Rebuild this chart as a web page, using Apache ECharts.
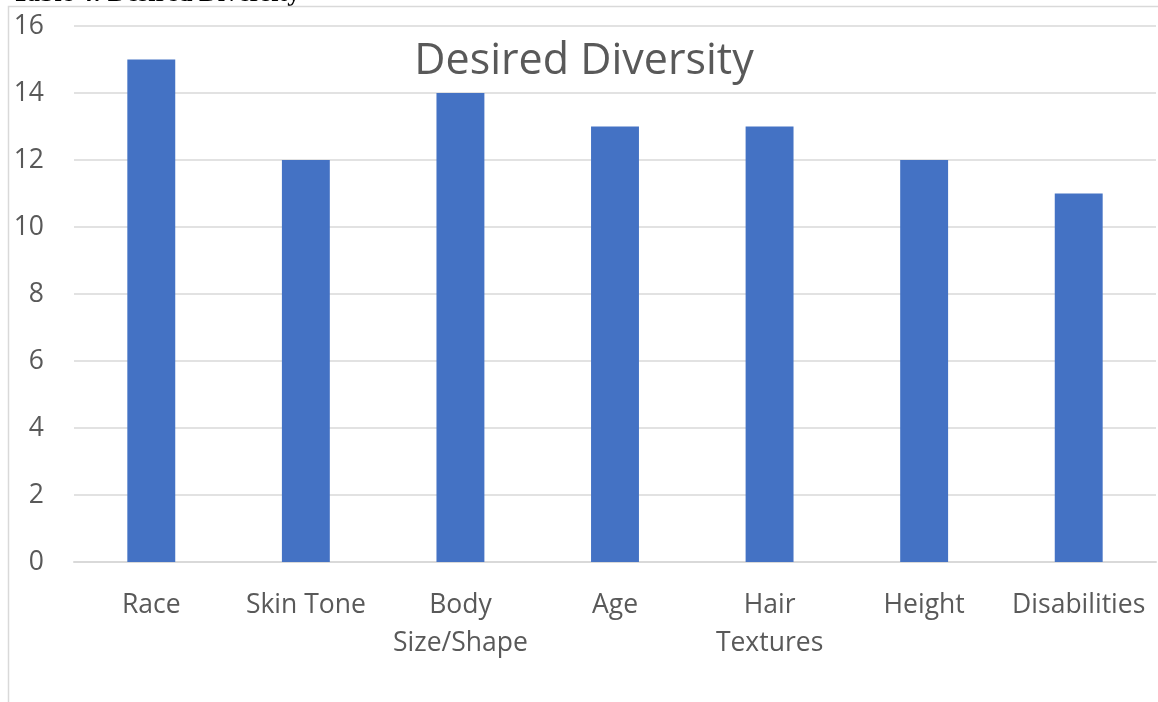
<html>
<head>
    <meta charset="utf-8">
    <title>Desired Diversity</title>
    <script src="https://cdn.jsdelivr.net/npm/echarts@6/dist/echarts.min.js"></script>
</head>
<body style="margin:0">
<div id="main" style="width: 1158px;height:702px;"></div>
<script type="text/javascript">
    var categories = ['Race', 'Skin Tone', 'Body\nSize/Shape', 'Age', 'Hair\nTextures', 'Height', 'Disabilities'];
    var counts = [15, 12, 14, 13, 13, 12, 11];

    var myChart = echarts.init(document.getElementById('main'));

    var option = {
        backgroundColor: '#fff',
        title: {
            text: 'Desired Diversity',
            left: 579,
            textAlign: 'center',
            top: 35,
            textStyle: {
                fontFamily: 'Open Sans',
                fontWeight: 'normal',
                fontSize: 43,
                color: '#595959'
            }
        },
        graphic: [
            {
                type: 'text',
                left: 12,
                top: -19,
                style: {
                    text: 'Table 4: Desired Diversity',
                    fontFamily: 'Liberation Serif',
                    fontWeight: 'bold',
                    fontSize: 26,
                    fill: '#000'
                }
            },
            {
                type: 'polyline',
                shape: { points: [[8.5, 702], [8.5, 6.5], [1158, 6.5]] },
                style: { stroke: '#d9d9d9', lineWidth: 1.5, fill: null }
            }
        ],
        grid: {
            left: 74,
            right: 2,
            top: 26,
            bottom: 140
        },
        xAxis: {
            type: 'category',
            data: categories,
            axisTick: { show: false },
            axisLine: { lineStyle: { color: '#d9d9d9', width: 2 } },
            axisLabel: {
                interval: 0,
                margin: 24,
                fontFamily: 'Open Sans',
                fontSize: 26.5,
                lineHeight: 38,
                color: '#595959'
            }
        },
        yAxis: {
            type: 'value',
            min: 0,
            max: 16,
            interval: 2,
            axisLine: { show: false },
            axisTick: { show: false },
            splitLine: { lineStyle: { color: '#d9d9d9', width: 1.5 } },
            axisLabel: {
                margin: 30,
                fontFamily: 'Open Sans',
                fontSize: 26.5,
                color: '#595959'
            }
        },
        series: [{
            name: 'Desired Diversity',
            type: 'bar',
            data: counts,
            barWidth: '31%',
            itemStyle: { color: '#4472C4' }
        }]
    };

    myChart.setOption(option);
</script>
</body>
</html>
